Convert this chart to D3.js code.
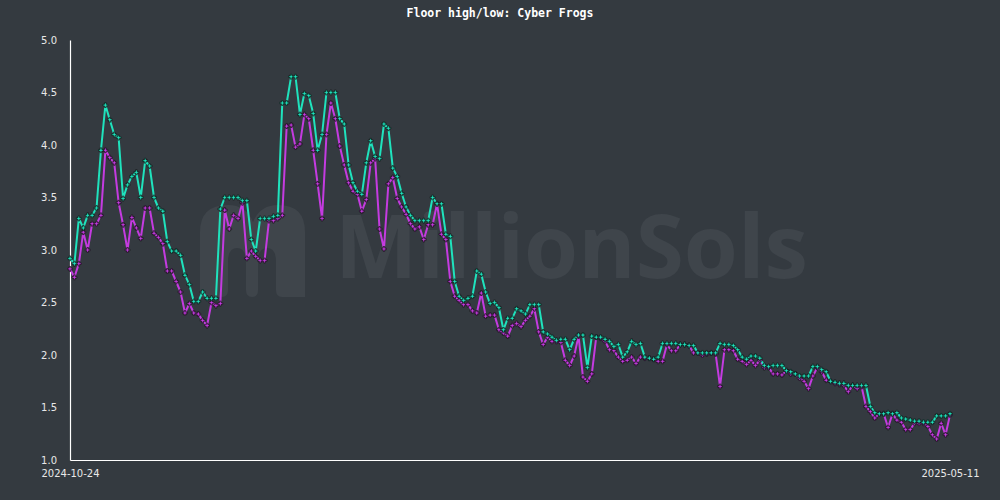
<!DOCTYPE html>
<html><head><meta charset="utf-8">
<script src="https://cdn.jsdelivr.net/npm/d3@7"></script>
<style>html,body{margin:0;padding:0;background:#343a40;}svg{display:block;}</style>
</head><body>
<svg id="c" width="1000" height="500"></svg>
<script>
const title = "Floor high/low: Cyber Frogs";
const startDate = "2024-10-24";
const endDate = "2025-05-11";
const xTickLabels = ["2024-10-24", "2025-05-11"];
const yTicks = [1.0, 1.5, 2.0, 2.5, 3.0, 3.5, 4.0, 4.5, 5.0];
const highValues = [
2.92,2.87,3.30,3.21,3.33,3.33,3.40,3.95,4.38,4.24,
4.10,4.07,3.49,3.62,3.70,3.74,3.50,3.85,3.80,3.50,
3.40,3.37,3.08,2.99,2.99,2.95,2.76,2.67,2.51,2.51,
2.60,2.54,2.54,2.54,3.39,3.50,3.50,3.50,3.50,3.47,
3.47,3.10,2.99,3.30,3.30,3.30,3.32,3.33,4.40,4.40,
4.65,4.65,4.29,4.49,4.47,4.30,3.95,4.10,4.50,4.50,
4.50,4.25,4.20,3.81,3.64,3.56,3.53,3.83,4.04,3.89,
3.87,4.20,4.16,3.78,3.70,3.54,3.41,3.33,3.28,3.28,
3.28,3.28,3.50,3.44,3.44,3.15,3.13,2.70,2.56,2.52,
2.54,2.56,2.80,2.77,2.60,2.49,2.50,2.45,2.24,2.35,
2.35,2.44,2.42,2.39,2.48,2.48,2.48,2.22,2.20,2.17,
2.14,2.15,2.15,2.05,2.15,2.19,2.19,1.88,2.18,2.17,
2.17,2.15,2.13,2.08,2.10,1.98,2.03,2.13,2.10,2.11,
1.98,1.97,1.96,1.98,2.11,2.11,2.11,2.11,2.10,2.10,
2.09,2.09,2.02,2.02,2.02,2.02,2.02,2.11,2.10,2.10,
2.09,2.05,1.98,1.96,1.99,1.99,1.97,1.90,1.89,1.90,
1.90,1.90,1.85,1.84,1.82,1.80,1.80,1.80,1.89,1.89,
1.86,1.84,1.75,1.74,1.73,1.73,1.71,1.71,1.71,1.71,
1.71,1.51,1.45,1.44,1.44,1.45,1.44,1.45,1.40,1.39,
1.38,1.37,1.37,1.36,1.36,1.36,1.42,1.42,1.42,1.44
];
const lowValues = [
2.82,2.74,2.87,3.17,3.00,3.25,3.25,3.33,3.95,3.88,
3.83,3.45,3.24,3.00,3.31,3.21,3.11,3.40,3.40,3.16,
3.12,3.06,2.80,2.80,2.70,2.60,2.40,2.49,2.40,2.39,
2.33,2.28,2.50,2.47,2.49,3.38,3.20,3.33,3.30,3.45,
2.92,2.99,2.94,2.90,2.90,3.28,3.28,3.30,3.33,4.18,
4.19,3.98,4.01,4.29,4.25,3.95,3.63,3.30,4.10,4.40,
4.25,3.99,3.81,3.64,3.56,3.53,3.37,3.48,3.83,3.87,
3.20,3.01,3.63,3.69,3.49,3.41,3.34,3.25,3.20,3.22,
3.10,3.24,3.24,3.44,3.15,3.10,2.70,2.56,2.52,2.48,
2.48,2.42,2.40,2.59,2.37,2.38,2.38,2.24,2.21,2.18,
2.28,2.30,2.27,2.33,2.37,2.44,2.22,2.10,2.17,2.13,
2.13,2.12,1.95,1.90,1.99,2.18,1.79,1.75,1.82,2.17,
2.16,2.13,2.05,2.04,1.98,1.94,1.95,1.98,1.92,1.98,
1.97,1.97,1.96,1.94,1.94,2.10,2.04,2.04,2.10,2.10,
2.09,2.02,2.02,2.00,2.01,2.02,2.01,1.70,2.05,2.05,
2.04,1.96,1.94,1.91,1.95,1.90,1.95,1.88,1.88,1.82,
1.82,1.81,1.85,1.82,1.82,1.78,1.75,1.68,1.80,1.88,
1.84,1.76,1.75,1.73,1.72,1.71,1.65,1.71,1.68,1.70,
1.51,1.46,1.40,1.44,1.44,1.31,1.44,1.38,1.36,1.29,
1.29,1.35,1.35,1.35,1.32,1.24,1.20,1.35,1.24,1.43
];

const parse = d3.utcParse("%Y-%m-%d");
const fmt = d3.utcFormat("%Y-%m-%d");
const dates = d3.utcDay.range(parse(startDate), d3.utcDay.offset(parse(endDate), 1));
const highData = dates.map((d, i) => ({d, v: highValues[i]}));
const lowData = dates.map((d, i) => ({d, v: lowValues[i]}));

const svg = d3.select("#c");
const M = {l: 70, r: 50, t: 40, b: 40};
const W = 1000, H = 500;
const x = d3.scaleUtc().domain([parse(startDate), parse(endDate)]).range([M.l, W - M.r]);
const y = d3.scaleLinear().domain([1, 5]).range([H - M.b, M.t]);

svg.append("rect").attr("width", W).attr("height", H).attr("fill", "#343a40");

// watermark
const wm = svg.append("g").attr("fill", "#3f454b");
wm.append("path").attr("d",
  "M200,297 L200,232 Q200,205 228,205 Q246,205 253,222 Q260,205 278,205 Q305,205 305,232 L305,297 L282,297 Q276,297 276,290 L276,262 Q276,248 267,248 Q258,248 258,262 L258,290 Q258,297 252,297 Q246,297 246,290 L246,262 Q246,248 237,248 Q228,248 228,262 L228,290 Q228,297 222,297 Z");
wm.append("text").attr("x", 335).attr("y", 278)
  .attr("font-family", "Open Sans, sans-serif").attr("font-weight", 700)
  .attr("font-size", 88).attr("textLength", 473).attr("lengthAdjust", "spacingAndGlyphs")
  .text("MillionSols");

// title
svg.append("text").attr("x", W / 2).attr("y", 17).attr("text-anchor", "middle")
  .attr("font-family", "DejaVu Sans Mono, monospace").attr("font-weight", "bold")
  .attr("font-size", 11.5).attr("fill", "#ffffff").text(title);

// axes
const yAxis = d3.axisLeft(y).tickValues(yTicks).tickFormat(d3.format(".1f")).tickSize(0).tickPadding(13);
const gy = svg.append("g").attr("transform", `translate(${M.l},0)`).call(yAxis);
const xAxis = d3.axisBottom(x).tickValues(xTickLabels.map(parse)).tickFormat(fmt).tickSize(0).tickPadding(10);
const gx = svg.append("g").attr("transform", `translate(0,${H - M.b})`).call(xAxis);
[gy, gx].forEach(g => {
  g.select(".domain").attr("stroke", "#ffffff").attr("stroke-width", 1.2);
  g.selectAll("text").attr("fill", "#e8e8e8").attr("font-family", "DejaVu Sans, sans-serif").attr("font-size", 10);
});

const line = d3.line().x(p => x(p.d)).y(p => y(p.v));
const series = [
  {data: lowData, color: "#c43be0"},
  {data: highData, color: "#1fe3bd"}
];
series.forEach(s => {
  svg.append("path").datum(s.data).attr("fill", "none").attr("stroke", s.color)
    .attr("stroke-width", 2).attr("stroke-linejoin", "round").attr("d", line);
});
series.forEach(s => {
  svg.append("g").selectAll("path").data(s.data).join("path")
    .attr("transform", p => `translate(${x(p.d)},${y(p.v)})`)
    .attr("d", d3.symbol(d3.symbolCross, 13))
    .attr("fill", s.color).attr("stroke", "#111").attr("stroke-width", 0.7);
});
</script>
</body></html>
